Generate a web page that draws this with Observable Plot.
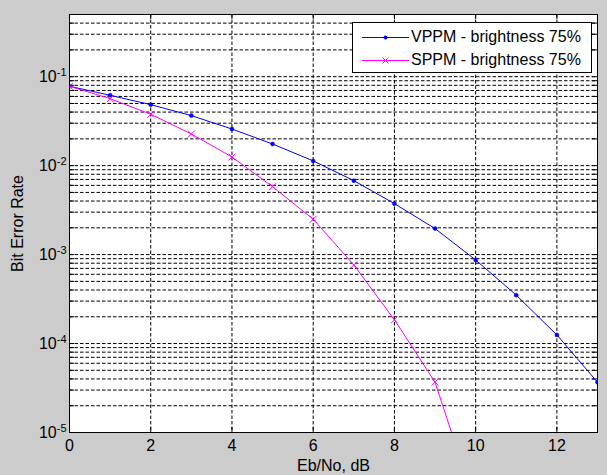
<!DOCTYPE html>
<html><head><meta charset="utf-8">
<script src="https://cdn.jsdelivr.net/npm/d3@7"></script>
<script src="https://cdn.jsdelivr.net/npm/@observablehq/plot@0.6"></script>
<style>
html,body{margin:0;padding:0;background:#cccccc;}
#wrap{position:relative;width:607px;height:475px;overflow:hidden;}
.legend{position:absolute;left:352px;top:22px;width:240px;height:51px;background:#fff;border:1px solid #000;box-sizing:border-box;font-family:"Liberation Sans",Arial,sans-serif;font-size:16px;color:#000;}
.legend .row{position:absolute;left:0;height:20px;width:100%;}
.legend svg{position:absolute;left:0;top:0;}
.legend span{position:absolute;left:58px;top:1px;line-height:18px;white-space:nowrap;}
</style></head><body><div id="wrap"></div>
<script>
// ---- data ----
const ebno = [0,1,2,3,4,5,6,7,8,9,10,11,12,13];
const vppm = [0.078,0.0618,0.0485,0.0365,0.0258,0.0175,0.0113,0.00678,0.00374,0.00196,0.00087,0.00035,0.000125,0.0000368];
const sppmX = [0,1,2,3,4,5,6,7,8,9,10];
const sppm = [0.078,0.0566,0.0378,0.0227,0.0125,0.0058,0.0025,0.000766,0.000185,0.0000368,0.0000015];
const seriesNames = ["VPPM - brightness 75%","SPPM - brightness 75%"];
const xTicks = [0,2,4,6,8,10,12];
const xGrid = [2,4,6,8,10,12];
const yDecades = [1e-5,1e-4,1e-3,1e-2,1e-1];
const mantissas = [1,2,3,4,5,6,7,8,9];
const xDomain = [0,13];
const yDomain = [1e-5,0.5];

const yGrid = [];
for (const d of yDecades) for (const m of mantissas) { const v = d*m; if (v > yDomain[0]*1.0001 && v < yDomain[1]*0.9999) yGrid.push(v); }
const yTicksAll = [];
for (const d of yDecades) for (const m of mantissas) { const v = d*m; if (v >= yDomain[0]*0.9999 && v <= yDomain[1]*1.0001) yTicksAll.push(v); }

const vData = ebno.map((x,i)=>({x, y:vppm[i]}));
const sData = sppmX.map((x,i)=>({x, y:sppm[i]}));

const W = 607, H = 475, mL = 69, mR = 10, mT = 14, mB = 43;
const fw = W - mL - mR, fh = H - mT - mB;
const dash = "3.5,2";

const chart = Plot.plot({
  width: W, height: H,
  marginLeft: mL, marginRight: mR, marginTop: mT, marginBottom: mB,
  style: {background: "#cccccc", fontFamily: "'Liberation Sans', Arial, sans-serif", fontSize: "16px", color: "#000"},
  x: {domain: xDomain},
  y: {type: "log", domain: yDomain},
  marks: [
    Plot.frame({fill: "white", stroke: null}),
    Plot.ruleX(xGrid, {stroke: "black", strokeDasharray: dash, strokeWidth: 1}),
    Plot.ruleY(yGrid, {stroke: "black", strokeDasharray: dash, strokeWidth: 1}),
    // inward ticks
    Plot.ruleX(xTicks, {stroke: "black", insetTop: fh - 5}),
    Plot.ruleX(xTicks, {stroke: "black", insetBottom: fh - 5}),
    Plot.ruleY(yTicksAll, {stroke: "black", insetRight: fw - 5}),
    Plot.ruleY(yTicksAll, {stroke: "black", insetLeft: fw - 5}),
    Plot.line(vData, {x: "x", y: "y", stroke: "#0000ff", strokeWidth: 1, clip: true}),
    Plot.dot(vData, {x: "x", y: "y", fill: "#0000ff", stroke: "#0000ff", strokeWidth: 0.5, r: 2, clip: true}),
    Plot.line(sData, {x: "x", y: "y", stroke: "#ff00ff", strokeWidth: 1, clip: true}),
    Plot.dot(sData, {x: "x", y: "y", symbol: "times", stroke: "#ff00ff", strokeWidth: 1, r: 3.2, clip: true}),
    Plot.frame({stroke: "black", strokeWidth: 1}),
    Plot.axisX({ticks: xTicks, tickSize: 0, tickPadding: 7, tickFormat: d => String(d),
      label: "Eb/No, dB", labelAnchor: "center", labelArrow: "none", labelOffset: 38}),
    Plot.axisY({ticks: yDecades, tickSize: 0, tickPadding: 3, tickFormat: d => "E" + Math.round(Math.log10(d)),
      label: "Bit Error Rate", labelAnchor: "center", labelArrow: "none", labelOffset: 58})
  ]
});

// superscript exponents on y tick labels
d3.select(chart).selectAll('[aria-label="y-axis tick label"] text').each(function() {
  const t = this.textContent;
  if (!t.startsWith("E")) return;
  const exp = t.slice(1);
  const sel = d3.select(this);
  sel.text(null);
  sel.append("tspan").text("10");
  sel.append("tspan").attr("dy", "-0.55em").attr("font-size", "11px").text(exp);
});

const wrap = document.getElementById("wrap");
wrap.appendChild(chart);

// legend
const legend = document.createElement("div");
legend.className = "legend";
const colors = ["#0000ff", "#ff00ff"];
seriesNames.forEach((name, i) => {
  const row = document.createElement("div");
  row.className = "row";
  row.style.top = (i === 0 ? 4 : 27) + "px";
  const svg = d3.create("svg").attr("width", 58).attr("height", 20);
  svg.append("line").attr("x1", 9).attr("x2", 56).attr("y1", 10.5).attr("y2", 10.5).attr("stroke", colors[i]).attr("stroke-width", 1);
  if (i === 0) svg.append("circle").attr("cx", 32.5).attr("cy", 10.5).attr("r", 2).attr("fill", colors[i]);
  else svg.append("path").attr("d", "M29.5,7.5L35.5,13.5M29.5,13.5L35.5,7.5").attr("stroke", colors[i]).attr("fill", "none");
  row.appendChild(svg.node());
  const span = document.createElement("span");
  span.textContent = name;
  row.appendChild(span);
  legend.appendChild(row);
});
wrap.appendChild(legend);
</script>
</body></html>
